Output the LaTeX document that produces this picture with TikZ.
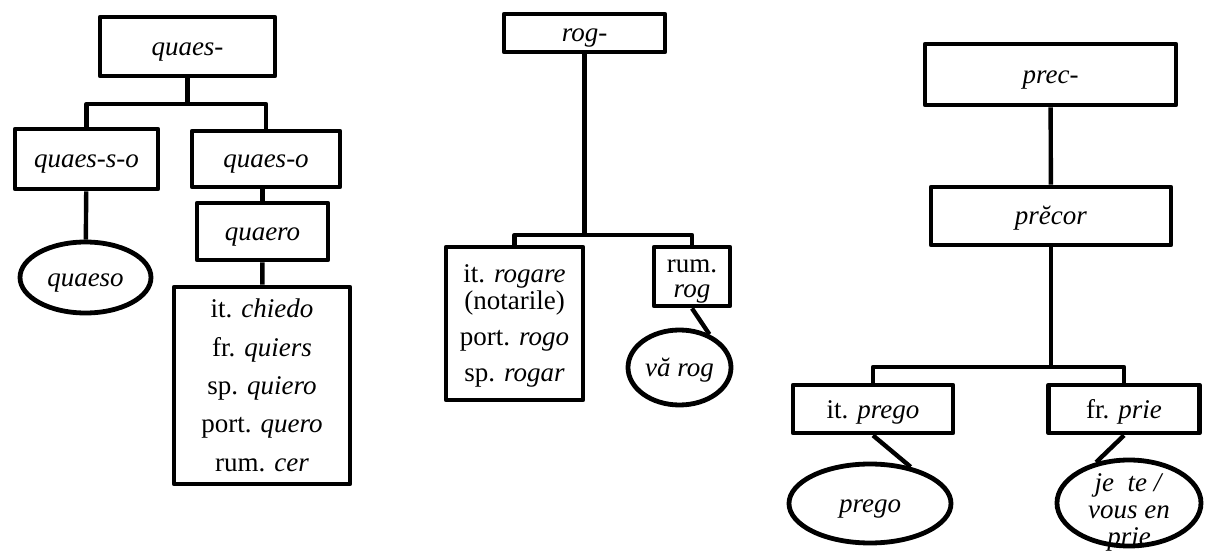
\documentclass[tikz,border=0pt]{standalone}
\usepackage{fontspec}
\setmainfont{Liberation Serif}
\usetikzlibrary{shapes.geometric}
\newcommand{\up}{\rule{0pt}{11.5pt}}
\newcommand{\dn}{\rule[-2.5pt]{0pt}{2.5pt}}
\tikzstyle{stem} = [rectangle, draw=black, line width=2.4pt, line join=round, inner sep=0pt, font=\fontsize{13.5}{13.5}\selectfont]
\tikzstyle{form} = [ellipse, draw=black, line width=2.4pt, inner sep=0pt, font=\fontsize{13.5}{13.5}\selectfont]
\tikzstyle{oneline} = [text height=11.5pt, text depth=2.5pt]
\tikzstyle{lines} = [align=center]
\tikzstyle{link} = [line width=2.2pt, line join=round]
\newcommand{\inoval}[1]{\makebox[0pt]{\smash{\raisebox{-8.5pt}{\begin{tabular}{@{}c@{}}#1\end{tabular}}}}}

\begin{document}
\begin{tikzpicture}[x=0.5pt, y=-0.5pt]
\useasboundingbox (0,0) rectangle (1207,551);

%% quaes-
\node (quaes) [stem, oneline, minimum width=87.5pt, minimum height=29.5pt] at (187.5,46.5) {\textit{quaes-}};
\node (quaesso) [stem, oneline, minimum width=71.5pt, minimum height=30pt] at (86.5,159) {\textit{quaes-s-o}};
\node (quaeso) [stem, oneline, minimum width=74pt, minimum height=28pt] at (266,159) {\textit{quaes-o}};
\node (quaero) [stem, oneline, minimum width=65.5pt, minimum height=28.5pt] at (262.5,231.5) {\textit{quaero}};
\node (quaesoform) [form, oneline, minimum width=65.5pt, minimum height=35.5pt] at (85.5,277.5) {\textit{quaeso}};
\node (quaerolist) [stem, lines, minimum width=88pt, minimum height=98.5pt, font=\fontsize{13.5}{19.2}\selectfont] at (262,385.5)
  {\up it. \textit{chiedo}\\ fr. \textit{quiers}\\ sp. \textit{quiero}\\ port. \textit{quero}\\ rum. \textit{cer}\dn};

%% rog-
\node (rog) [stem, oneline, minimum width=80.5pt, minimum height=19pt] at (584.5,33) {\textit{rog-}};
\node (roglist) [stem, lines, minimum width=68.5pt, minimum height=76.5pt] at (514.5,323.5)
  {\up it. \textit{rogare}\\ (notarile)\\[4.5pt] port. \textit{rogo}\\[4.5pt] sp. \textit{rogar}\dn};
\node (rumrog) [stem, lines, minimum width=38pt, minimum height=29.5pt, font=\fontsize{13.5}{12.5}\selectfont] at (692,276.5) {\up rum.\\ \textit{rog}\dn};
\node (varog) [form, oneline, minimum width=51.5pt, minimum height=37.5pt] at (679.5,367.5) {\textit{vă rog}};

%% prec-
\node (prec) [stem, oneline, minimum width=125.5pt, minimum height=30.5pt] at (1050.5,74.5) {\textit{prec-}};
\node (precor) [stem, oneline, minimum width=120pt, minimum height=29pt] at (1051,216) {\textit{prĕcor}};
\node (itprego) [stem, oneline, minimum width=80pt, minimum height=24pt] at (873,409) {it. \textit{prego}};
\node (frprie) [stem, oneline, minimum width=75.5pt, minimum height=24pt] at (1124,409) {fr. \textit{prie}};
\node (prego) [form, oneline, minimum width=81pt, minimum height=39.5pt] at (870,503.5) {\textit{prego}};
\node (jete) [form, minimum width=72pt, minimum height=43pt] at (1129,503) {\inoval{\textit{je\ \ te /}\\ \textit{vous en}\\ \textit{prie}}};

%% connectors
\coordinate (qfork) at (187.5,104);
\draw [link] (quaes) -- (qfork);
\draw [link] (quaesso.north) |- (qfork) -| (quaeso.north);
\draw [link] (quaesso) -- (quaesoform);
\draw [link] (quaeso.south -| quaero) -- (quaero.north);
\draw [link] (quaero) -- (quaerolist);

\coordinate (rfork) at (584.5,235);
\draw [link] (rog) -- (rfork);
\draw [link] (roglist.north) |- (rfork) -| (rumrog.north);
\draw [link] (rumrog.south) -- (varog.48);

\coordinate (pfork) at (1051,367);
\draw [link] (prec) -- (precor);
\draw [link] (precor) -- (pfork);
\draw [link] (itprego.north) |- (pfork) -| (frprie.north);
\draw [link] (itprego.south) -- (prego.42);
\draw [link] (frprie.south) -- (jete.129);

\end{tikzpicture}
\end{document}
